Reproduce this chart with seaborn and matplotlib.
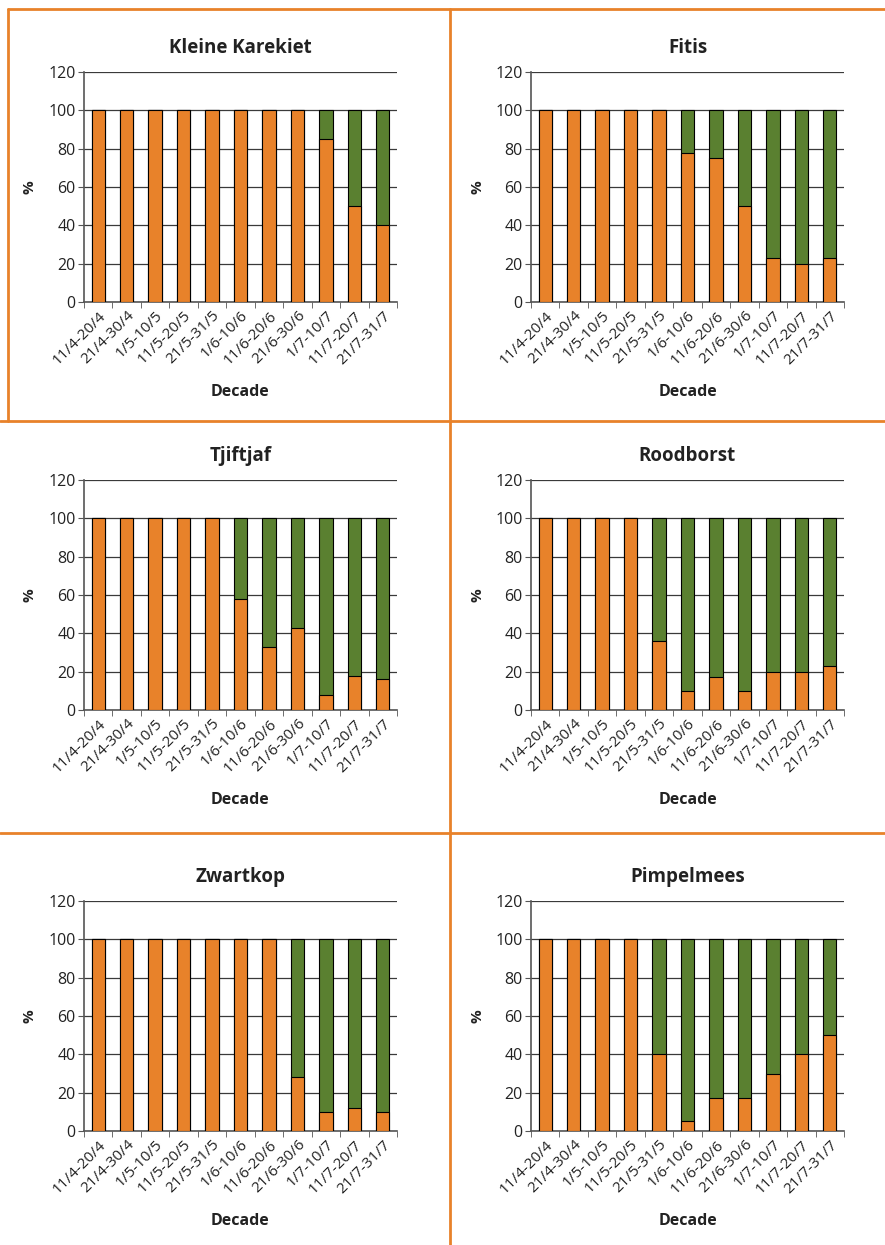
import matplotlib
matplotlib.use("Agg")
import matplotlib.pyplot as plt
from matplotlib.lines import Line2D
from matplotlib.ticker import FixedLocator
import seaborn as sns
import pandas as pd

decades = ["11/4-20/4", "21/4-30/4", "1/5-10/5", "11/5-20/5", "21/5-31/5", "1/6-10/6",
           "11/6-20/6", "21/6-30/6", "1/7-10/7", "11/7-20/7", "21/7-31/7"]
species = ["Kleine Karekiet", "Fitis", "Tjiftjaf", "Roodborst", "Zwartkop", "Pimpelmees"]

# orange share (%) per decade, remainder to 100 is green
kleine_karekiet = [100, 100, 100, 100, 100, 100, 100, 100, 85, 50, 40]
fitis = [100, 100, 100, 100, 100, 78, 75, 50, 23, 20, 23]
tjiftjaf = [100, 100, 100, 100, 100, 58, 33, 43, 8, 18, 16]
roodborst = [100, 100, 100, 100, 36, 10, 17, 10, 20, 20, 23]
zwartkop = [100, 100, 100, 100, 100, 100, 100, 28, 10, 12, 10]
pimpelmees = [100, 100, 100, 100, 40, 5, 17, 17, 30, 40, 50]
totals = [100] * 11

series = [kleine_karekiet, fitis, tjiftjaf, roodborst, zwartkop, pimpelmees]

ORANGE = "#E8822A"
GREEN = "#5A8030"
TXT = "#222222"

sns.set_style("white")
plt.rcParams["font.family"] = ["Open Sans", "DejaVu Sans"]

W, H = 885, 1245
fig = plt.figure(figsize=(W / 100, H / 100), dpi=100)

lefts = [84, 531]
tops = [72, 480, 901]
aw, ah = 313, 230

for i, (name, vals) in enumerate(zip(species, series)):
    col, row = i % 2, i // 2
    x0, y0 = lefts[col], tops[row]
    ax = fig.add_axes([x0 / W, 1 - (y0 + ah) / H, aw / W, ah / H])
    df = pd.DataFrame({"decade": decades, "orange": vals, "total": totals})
    sns.barplot(data=df, x="decade", y="total", color=GREEN, width=0.47,
                edgecolor="black", linewidth=0.8, saturation=1, ax=ax, zorder=3)
    sns.barplot(data=df, x="decade", y="orange", color=ORANGE, width=0.47,
                edgecolor="black", linewidth=0.8, saturation=1, ax=ax, zorder=4)
    ax.set_ylim(0, 120)
    ax.set_xlim(-0.5, len(decades) - 0.5)
    ax.set_yticks(range(0, 121, 20))
    ax.yaxis.grid(True, color="#3a3a3a", linewidth=0.9, zorder=0)
    ax.set_axisbelow(True)
    for s in ["top", "right"]:
        ax.spines[s].set_visible(False)
    for s in ["left", "bottom"]:
        ax.spines[s].set_color("#555555")
        ax.spines[s].set_linewidth(1.2)
    ax.tick_params(axis="y", left=True, length=4, color="#555555", labelsize=11.5, pad=2)
    ax.tick_params(axis="x", which="major", bottom=False, labelsize=11, pad=1)
    ax.xaxis.set_minor_locator(FixedLocator([k - 0.5 for k in range(len(decades) + 1)]))
    ax.tick_params(axis="x", which="minor", bottom=True, length=4, color="#555555")
    ax.set_xticks(range(len(decades)))
    ax.set_xticklabels(decades, rotation=45, ha="right", rotation_mode="anchor", color=TXT)
    for t in ax.get_yticklabels():
        t.set_color(TXT)
    ax.set_title(name, fontsize=13.5, fontweight="bold", color=TXT, pad=14)
    ax.set_xlabel("Decade", fontsize=11.5, fontweight="bold", color=TXT, labelpad=12)
    ax.set_ylabel("%", fontsize=11, fontweight="bold", color=TXT)
    ax.yaxis.set_label_coords(-47 / aw, 0.5)

# orange frame lines
lc = ORANGE
lw = 2
def hline(y, x1, x2):
    fig.add_artist(Line2D([x1 / W, x2 / W], [1 - y / H, 1 - y / H], color=lc, linewidth=lw))
def vline(x, y1, y2):
    fig.add_artist(Line2D([x / W, x / W], [1 - y1 / H, 1 - y2 / H], color=lc, linewidth=lw))

hline(9, 8, W)
vline(8, 9, 421)
hline(421, 0, W)
hline(833, 0, W)
vline(450, 9, H)

fig.savefig("out.png", dpi=100)
